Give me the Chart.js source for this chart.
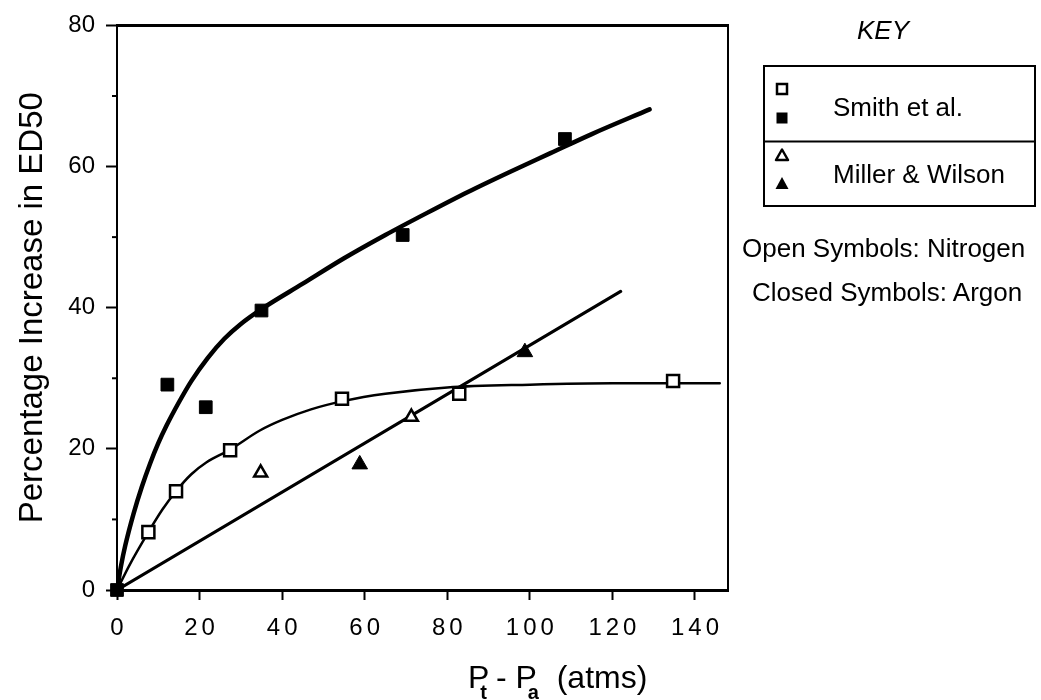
<!DOCTYPE html>
<html>
<head>
<meta charset="utf-8">
<script src="https://cdn.jsdelivr.net/npm/chart.js@4.4.0/dist/chart.umd.min.js"></script>
<style>
  html, body { margin: 0; padding: 0; background: #fff; }
  #wrap { position: relative; width: 1041px; height: 700px; overflow: hidden;
          font-family: "Liberation Sans", Arial, Helvetica, sans-serif; color: #000; }
  #chart { position: absolute; left: 0; top: 0; }
  #keyshapes { position: absolute; left: 0; top: 0; }
  .txt { position: absolute; white-space: nowrap; line-height: 1; font-size: 26px; }
  .sub { position: relative; top: 11px; font-size: 20px; font-weight: bold; }
</style>
</head>
<body>
<div id="wrap">
  <canvas id="chart" width="1041" height="700"></canvas>

  <!-- key (legend) -->
  <svg id="keyshapes" width="1041" height="700">
    <rect x="764" y="66" width="271" height="140" fill="none" stroke="#000" stroke-width="2"/>
    <line x1="764" y1="141.5" x2="1035" y2="141.5" stroke="#000" stroke-width="2"/>
    <rect x="777" y="84" width="10" height="10" fill="#fff" stroke="#000" stroke-width="2.5"/>
    <rect x="776.5" y="112.5" width="11" height="11" fill="#000"/>
    <polygon points="782,149.5 776,160 788,160" fill="#fff" stroke="#000" stroke-width="2.5" stroke-linejoin="round"/>
    <polygon points="782,177 775.5,189 788.5,189" fill="#000"/>
  </svg>
  <div class="txt" style="left:857px; top:17px; font-style:italic;">KEY</div>
  <div class="txt" style="left:833px; top:94px;">Smith et al.</div>
  <div class="txt" style="left:833px; top:161px;">Miller &amp; Wilson</div>
  <div class="txt" style="left:742px; top:235px;">Open Symbols: Nitrogen</div>
  <div class="txt" style="left:752px; top:279px;">Closed Symbols: Argon</div>

  <!-- x axis title, with subscripts -->
  <div class="txt" style="left:468px; top:661px; font-size:32px;">P<span class="sub" style="margin-left:-9px;">t</span>&nbsp;-&nbsp;P<span class="sub" style="margin-left:-9px;">a</span>&nbsp;&nbsp;(atms)</div>
</div>

<script>
// axis ticks
const xTicks = [0, 20, 40, 60, 80, 100, 120, 140];
const yTicks = [0, 20, 40, 60, 80];
const yMinorTicks = [10, 30, 50, 70];

// Smith et al. - closed squares (argon)
const smithArX = [0, 12.2, 21.5, 35, 69.2, 108.5];
const smithArY = [0, 29.1, 25.9, 39.6, 50.3, 63.9];
// Smith et al. - open squares (nitrogen)
const smithN2X = [7.6, 14.3, 27.4, 54.5, 82.9, 134.7];
const smithN2Y = [8.2, 14.0, 19.8, 27.1, 27.8, 29.6];
// Miller & Wilson - open triangles (nitrogen)
const millerN2X = [34.8, 71.3];
const millerN2Y = [16.6, 24.5];
// Miller & Wilson - closed triangles (argon)
const millerArX = [58.8, 98.8];
const millerArY = [17.8, 33.7];

// hand drawn curves
const thickX = [0, 1, 2, 4, 6, 8, 10, 12, 15, 18, 22, 26, 30, 35, 45, 55, 65, 75, 85, 95, 105, 115, 129];
const thickY = [0, 3.5, 6.3, 10.8, 14.6, 17.9, 20.8, 23.3, 26.6, 29.6, 32.9, 35.6, 37.7, 39.8, 43.4, 47, 50.3, 53.4, 56.4, 59.2, 61.9, 64.6, 68.1];
const thinX = [0, 3, 7.6, 11, 14.3, 18, 21.7, 27.4, 34.6, 40, 47, 55, 65, 80, 100, 120, 146];
const thinY = [0, 3.5, 8.2, 11.4, 14.0, 16.4, 18.1, 19.9, 22.6, 24.1, 25.6, 26.8, 27.8, 28.7, 29.1, 29.3, 29.3];
const lineX = [0, 122];
const lineY = [0, 42.3];

function pts(xs, ys) {
    return xs.map((x, i) => ({ x: x, y: ys[i] }));
}

var fontFam = '"Liberation Sans", Arial, Helvetica, sans-serif';

function markers(xs, ys, style, filled, r) {
    return {
        data: pts(xs, ys),
        showLine: false,
        pointStyle: style,
        pointRadius: r,
        pointBorderWidth: filled ? 1 : 2.5,
        pointBorderColor: '#000',
        pointBackgroundColor: filled ? '#000' : '#fff',
        clip: false,
        order: 0
    };
}

function curve(xs, ys, w) {
    return {
        data: pts(xs, ys),
        showLine: true,
        pointRadius: 0,
        borderColor: '#000',
        borderWidth: w,
        borderCapStyle: 'round',
        cubicInterpolationMode: 'monotone',
        fill: false,
        order: 1
    };
}

// frame top/right, minor y ticks, spaced x labels
const framePlugin = {
    id: 'framePlugin',
    afterDatasetsDraw(chart) {
        chart.ctx.letterSpacing = '4px';
    },
    afterDraw(chart) {
        const ctx = chart.ctx;
        const a = chart.chartArea;
        const yScale = chart.scales.y;
        ctx.letterSpacing = '0px';
        ctx.save();
        ctx.strokeStyle = '#000';
        ctx.lineWidth = 3;
        ctx.beginPath();
        ctx.moveTo(a.left - 1, a.top);
        ctx.lineTo(a.right + 1, a.top);
        ctx.stroke();
        ctx.lineWidth = 2;
        ctx.beginPath();
        ctx.moveTo(a.right, a.top);
        ctx.lineTo(a.right, a.bottom);
        ctx.stroke();
        yMinorTicks.forEach(v => {
            const py = yScale.getPixelForValue(v);
            ctx.beginPath();
            ctx.moveTo(a.left - 5, py);
            ctx.lineTo(a.left, py);
            ctx.stroke();
        });
        ctx.restore();
    }
};

var ctx = document.getElementById('chart').getContext('2d');

var chart = new Chart(ctx, {
    type: 'scatter',
    data: {
        datasets: [
            markers(smithArX, smithArY, 'rect', true, 9),
            markers(smithN2X, smithN2Y, 'rect', false, 8.5),
            markers(millerN2X, millerN2Y, 'triangle', false, 7.5),
            markers(millerArX, millerArY, 'triangle', true, 9),
            curve(thickX, thickY, 4.5),
            curve(thinX, thinY, 2.5),
            curve(lineX, lineY, 3.2)
        ]
    },
    options: {
        responsive: false,
        animation: false,
        events: [],
        layout: { padding: { top: 20, right: 313, bottom: 0, left: 0 } },
        plugins: {
            legend: { display: false },
            tooltip: { enabled: false }
        },
        scales: {
            x: {
                type: 'linear',
                min: 0,
                max: 148,
                afterBuildTicks: s => { s.ticks = xTicks.map(v => ({ value: v })); },
                afterFit: s => { s.height = 110; },
                grid: { drawOnChartArea: false, drawTicks: true, tickLength: 10, tickWidth: 2, tickColor: '#000' },
                border: { display: true, color: '#000', width: 3 },
                ticks: { z: 1, color: '#000', padding: 14, labelOffset: 2, maxRotation: 0, font: { family: fontFam, size: 24 } }
            },
            y: {
                type: 'linear',
                min: 0,
                max: 80,
                afterBuildTicks: s => { s.ticks = yTicks.map(v => ({ value: v })); },
                afterFit: s => { s.width = 117; },
                grid: { drawOnChartArea: false, drawTicks: true, tickLength: 11, tickWidth: 2, tickColor: '#000' },
                border: { display: true, color: '#000', width: 2 },
                ticks: { color: '#000', padding: 11, font: { family: fontFam, size: 24 } },
                title: {
                    display: true,
                    text: 'Percentage Increase in ED50',
                    color: '#000',
                    padding: { top: 13, bottom: 0 },
                    font: { family: fontFam, size: 33 }
                }
            }
        }
    },
    plugins: [framePlugin]
});
</script>
</body>
</html>
